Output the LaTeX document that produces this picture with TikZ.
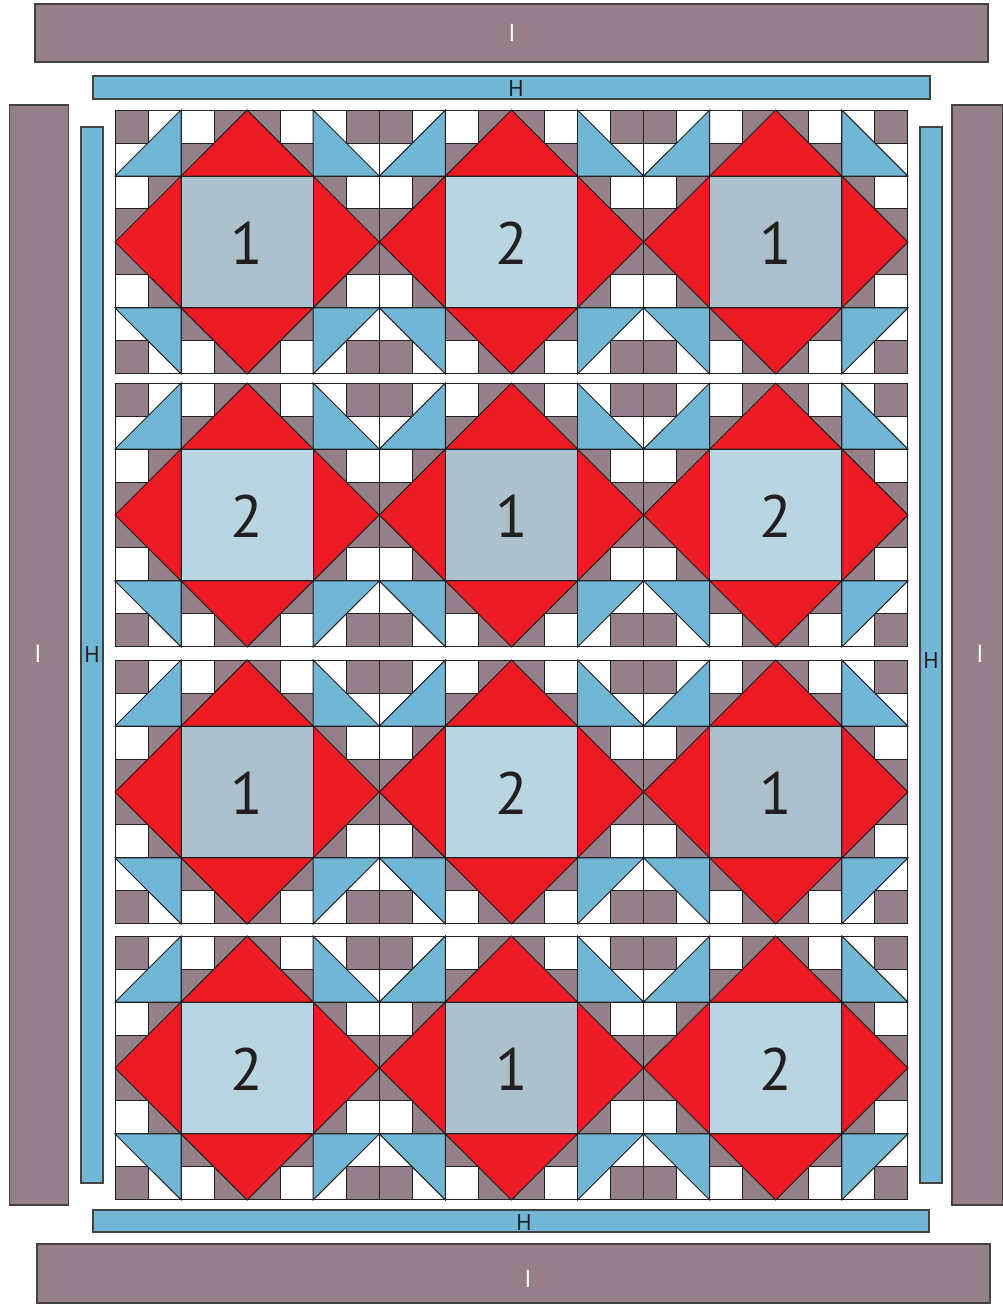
\documentclass[tikz,border=0pt]{standalone}
\usepackage{fontspec}
\setmainfont{PT Sans}
\definecolor{malva}{HTML}{938089}
\definecolor{azul}{HTML}{72B6D5}
\definecolor{rojo}{HTML}{ED1C24}
\definecolor{centrouno}{HTML}{ADC1CC}
\definecolor{centrodos}{HTML}{B8D5E1}
\definecolor{borde}{HTML}{231F20}

\begin{document}
\begin{tikzpicture}[x=0.02cm, y=-0.02cm, line width=0.6pt,
  celda/.style={draw=borde, line width=0.55pt},
  tiraI/.style={fill=malva, draw=borde!85},
  tiraH/.style={fill=azul, draw=borde!85},
  etiqI/.style={text=white, font=\fontsize{14}{14}\selectfont},
  etiqH/.style={text=borde, font=\fontsize{13}{13}\selectfont},
  numero/.style={text=borde, font=\fontsize{34}{34}\selectfont}]
  \useasboundingbox (0,0) rectangle (1002,1304);

  % Tiras exteriores I
  \filldraw[tiraI] (35,4) rectangle (988,62);
  \filldraw[tiraI] (37,1244) rectangle (990,1303);
  \filldraw[tiraI] (9.5,105) rectangle (68.5,1205);
  \filldraw[tiraI] (952,105) rectangle (1003,1205);
  \node[etiqI] (Iarriba) at (512,33) {I};
  \node[etiqI] (Iabajo) at (528,1279) {I};
  \node[etiqI] (Iizq) at (38,654) {I};
  \node[etiqI] (Ider) at (980,654) {I};

  % Tiras interiores H
  \filldraw[tiraH] (93,76) rectangle (930,99);
  \filldraw[tiraH] (93,1210) rectangle (929,1232);
  \filldraw[tiraH] (81,127) rectangle (103,1183);
  \filldraw[tiraH] (920,127) rectangle (942,1183);
  \node[etiqH] (Harriba) at (516,89) {H};
  \node[etiqH] (Habajo) at (524,1222) {H};
  \node[etiqH] (Hizq) at (92,654) {H};
  \node[etiqH] (Hder) at (931,660) {H};

  % Bloques: 4 filas x 3 columnas
  \foreach \by [count=\fila from 0] in {110,383,660,936} {
    \foreach \col in {0,1,2} {
      \begin{scope}[shift={(115+264.33*\col,\by)}, x=0.6607cm, y=-0.66cm]
        % Cuadritos malva y blancos
        \foreach \c in {0,...,7} {
          \foreach \r in {0,...,7} {
            \pgfmathtruncatemacro\m{mod(mod(\c,2)+mod(\r,2)+int(\c/2)+int(\r/2),2)}
            \ifnum\m=0 \def\tono{malva}\else\def\tono{white}\fi
            \filldraw[celda, fill=\tono] (\c,\r) rectangle ++(1,1);
          }
        }
        % Triángulos azules de las esquinas
        \filldraw[celda, fill=azul] (0,2) -- (2,0) -- (2,2) -- cycle;
        \filldraw[celda, fill=azul] (6,0) -- (6,2) -- (8,2) -- cycle;
        \filldraw[celda, fill=azul] (0,6) -- (2,6) -- (2,8) -- cycle;
        \filldraw[celda, fill=azul] (6,6) -- (8,6) -- (6,8) -- cycle;
        % Triángulos rojos
        \filldraw[celda, fill=rojo] (2,2) -- (4,0) -- (6,2) -- cycle;
        \filldraw[celda, fill=rojo] (2,2) -- (0,4) -- (2,6) -- cycle;
        \filldraw[celda, fill=rojo] (6,2) -- (8,4) -- (6,6) -- cycle;
        \filldraw[celda, fill=rojo] (2,6) -- (4,8) -- (6,6) -- cycle;
        % Centro numerado
        \pgfmathtruncatemacro\n{mod(\fila+\col,2)+1}
        \ifnum\n=1 \def\fondo{centrouno}\else\def\fondo{centrodos}\fi
        \filldraw[celda, fill=\fondo] (2,2) rectangle (6,6);
        \node[numero] (num\fila\col) at (4,4.05) {\n};
      \end{scope}
    }
  }
\end{tikzpicture}
\end{document}
